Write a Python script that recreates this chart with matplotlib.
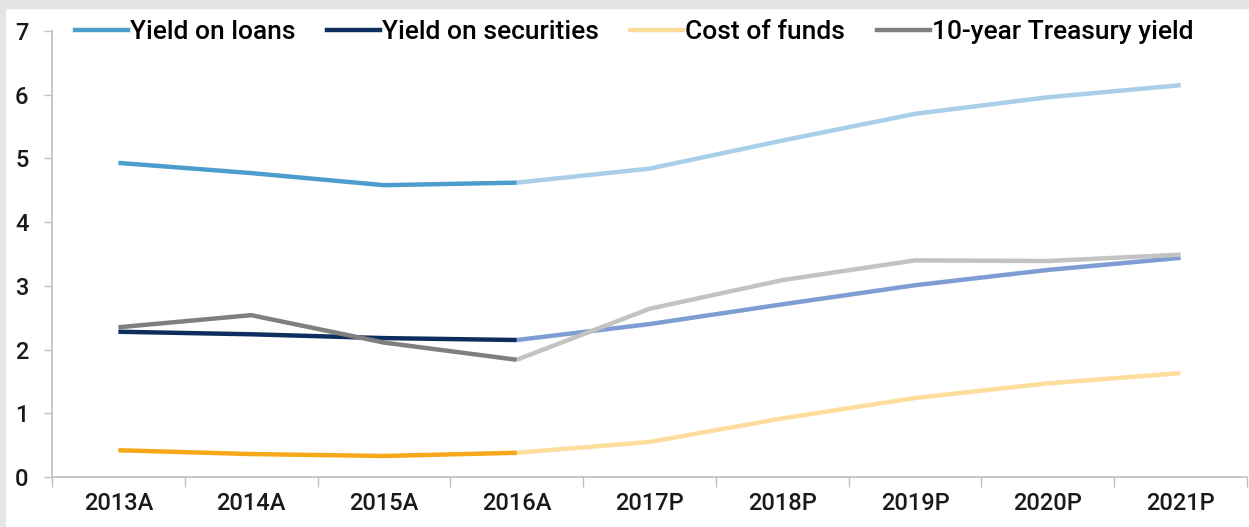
import matplotlib
matplotlib.use("Agg")
import matplotlib.pyplot as plt
from matplotlib.patches import Rectangle

categories = ["2013A", "2014A", "2015A", "2016A", "2017P", "2018P", "2019P", "2020P", "2021P"]
n_actual = 4
yield_loans = [4.93, 4.77, 4.58, 4.62, 4.84, 5.28, 5.70, 5.96, 6.15]
yield_securities = [2.28, 2.24, 2.18, 2.15, 2.40, 2.71, 3.01, 3.25, 3.44]
cost_of_funds = [0.42, 0.36, 0.33, 0.38, 0.55, 0.92, 1.24, 1.47, 1.63]
treasury_10y = [2.35, 2.54, 2.11, 1.84, 2.64, 3.09, 3.40, 3.39, 3.49]
y_ticks = [0, 1, 2, 3, 4, 5, 6, 7]

series = [
    ("Yield on loans", yield_loans, "#4c9dcb", "#a8cfe7", "#4c9dcb"),
    ("Yield on securities", yield_securities, "#0c2f5f", "#7d9dd3", "#0c2f5f"),
    ("Cost of funds", cost_of_funds, "#f6a81b", "#fedc9c", "#fedc9c"),
    ("10-year Treasury yield", treasury_10y, "#7f7f7f", "#c3c3c3", "#7f7f7f"),
]

plt.rcParams['font.family'] = ['Roboto', 'DejaVu Sans']
plt.rcParams['font.weight'] = 500
fig = plt.figure(figsize=(12.49, 5.27), dpi=100)
fig.patch.set_facecolor("white")
fig.patches.append(Rectangle((0, 1 - 8/527), 1, 8/527, transform=fig.transFigure, color="#e4e5e5", zorder=-1))
fig.patches.append(Rectangle((0, 0), 5/1249, 1, transform=fig.transFigure, color="#e4e5e5", zorder=-1))

ax = fig.add_axes([52/1249, 50/527, 1195/1249, 446/527])
x = list(range(len(categories)))
handles = []
for label, vals, c_act, c_proj, c_leg in series:
    ax.plot(x[:n_actual], vals[:n_actual], color=c_act, lw=3.2, solid_capstyle="butt", zorder=3)
    ax.plot(x[n_actual-1:], vals[n_actual-1:], color=c_proj, lw=3.2, solid_capstyle="butt", zorder=2)
    h, = ax.plot([], [], color=c_leg, lw=3.2, label=label)
    handles.append(h)

ax.set_xlim(-0.5, len(categories) - 0.5)
ax.set_ylim(0, 7)
ax.set_yticks(y_ticks)
ax.set_xticks(x)
ax.set_xticklabels(categories)
ax.set_xticks([i - 0.5 for i in range(len(categories) + 1)], minor=True)
ax.tick_params(axis="x", which="major", length=0, labelsize=17, pad=11, colors="#1a1a1a")
ax.tick_params(axis="x", which="minor", length=7, width=1, color="#bfbfbf")
ax.tick_params(axis="y", length=6, width=1, color="#bfbfbf", labelsize=17, pad=11, labelcolor="#1a1a1a")
for s in ["top", "right"]:
    ax.spines[s].set_visible(False)
for s in ["left", "bottom"]:
    ax.spines[s].set_color("#bfbfbf")
    ax.spines[s].set_linewidth(1.2)

fig.legend(handles=handles, loc="center left", bbox_to_anchor=(75/1249, 1 - 32/527),
           ncol=4, frameon=False, fontsize=19, handlelength=2.0, handletextpad=0.08,
           columnspacing=1.2, borderaxespad=0, borderpad=0)

fig.savefig("out.png", dpi=100, facecolor="white")
